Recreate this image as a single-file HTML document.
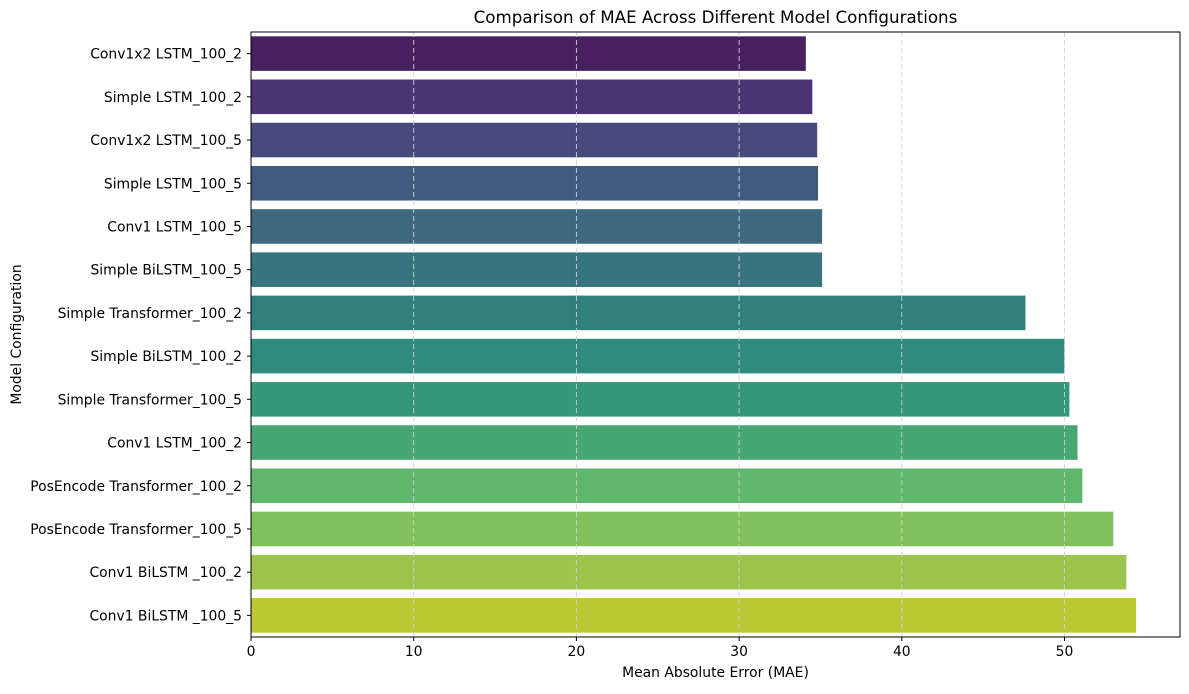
<!DOCTYPE html>
<html><head><meta charset="utf-8"><style>
body{margin:0;background:#fff;font-family:"DejaVu Sans","Liberation Sans",sans-serif;}
</style></head><body>
<svg id="c" width="1189" height="690" xmlns="http://www.w3.org/2000/svg" font-family="DejaVu Sans, Liberation Sans, sans-serif"></svg>
<script>
const categories=["Conv1x2 LSTM_100_2","Simple LSTM_100_2","Conv1x2 LSTM_100_5","Simple LSTM_100_5","Conv1 LSTM_100_5","Simple BiLSTM_100_5","Simple Transformer_100_2","Simple BiLSTM_100_2","Simple Transformer_100_5","Conv1 LSTM_100_2","PosEncode Transformer_100_2","PosEncode Transformer_100_5","Conv1 BiLSTM _100_2","Conv1 BiLSTM _100_5"];
const maeValues=[34.1,34.5,34.8,34.85,35.1,35.1,47.6,50.0,50.3,50.8,51.1,53.0,53.8,54.4];
const xTicks=[0,10,20,30,40,50];
const colors=['#48205f','#4a3474','#464a7c','#435a80','#3d6880','#37747f','#317f7f','#2e8b7d','#36987a','#47a672','#62b76e','#80c15e','#9dc54b','#bbc832'];
const L=251,R=1180,T=32,B=637,ppu=16.27;
const x=v=>L+v*ppu;
const band=(B-T)/categories.length;
const y=i=>T+band*i+band/2;
const svg=document.getElementById('c');
const NS='http://www.w3.org/2000/svg';
function mk(t,a,txt){const e=document.createElementNS(NS,t);for(const k in a)e.setAttribute(k,a[k]);if(txt!==undefined)e.textContent=txt;svg.appendChild(e);return e;}
categories.forEach((c,i)=>{
 const h=band*0.8;
 const r=mk('rect',{x:L,y:y(i)-h/2,width:x(maeValues[i])-L,height:h,fill:colors[i]});
 
 
 const tk=mk('line',{x1:L-4,x2:L,y1:y(i),y2:y(i),stroke:'#000'});
 
 
 const lb=mk('text',{x:L-9,y:y(i)+5,'text-anchor':'end','font-size':13.9,fill:'#000'},c);
 
 
});
xTicks.forEach(t=>{
 const g=mk('line',{x1:x(t),x2:x(t),y1:T,y2:B,stroke:'#d0d0d0','stroke-dasharray':'5,3','stroke-width':0.9});
 
 
});
xTicks.forEach(t=>{
 const tk=mk('line',{x1:x(t),x2:x(t),y1:B,y2:B+4,stroke:'#000'});
 
 
 const lb=mk('text',{x:x(t),y:B+19,'text-anchor':'middle','font-size':13.9,fill:'#000'},t);
 
 
});
const fr=mk('rect',{x:L,y:T,width:R-L,height:B-T,fill:'none',stroke:'#000','stroke-width':1});


const ti=mk('text',{x:(L+R)/2,y:23,'text-anchor':'middle','font-size':16.7,fill:'#000'},'Comparison of MAE Across Different Model Configurations');


const xt=mk('text',{x:(L+R)/2,y:677,'text-anchor':'middle','font-size':13.9,fill:'#000'},'Mean Absolute Error (MAE)');


const yt=mk('text',{x:21,y:(T+B)/2,'text-anchor':'middle','font-size':13.9,fill:'#000',transform:'rotate(-90 21 '+((T+B)/2)+')'},'Model Configuration');


</script>
</body></html>
